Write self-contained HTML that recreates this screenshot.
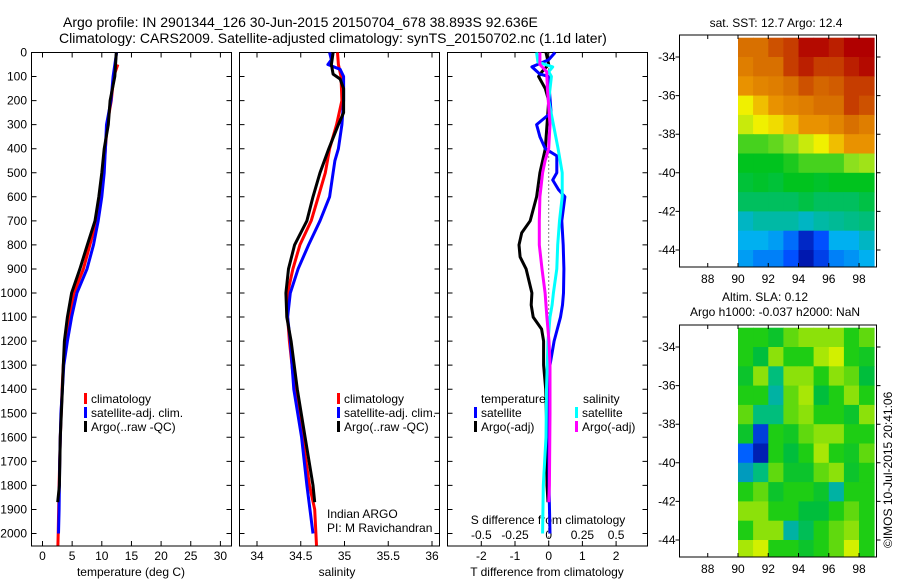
<!DOCTYPE html>
<html><head><meta charset="utf-8">
<style>
html,body{margin:0;padding:0;background:#fff;}
svg{display:block;font-family:"Liberation Sans",sans-serif;}
text{fill:#000;}
</style></head>
<body>
<svg id="fig" width="900" height="580" viewBox="0 0 900 580">
<rect width="900" height="580" fill="#fff"/>
<text x="63" y="27" font-size="14">Argo profile: IN 2901344_126 30-Jun-2015 20150704_678 38.893S 92.636E</text>
<text x="59" y="43" font-size="14">Climatology: CARS2009. Satellite-adjusted climatology: synTS_20150702.nc (1.1d later)</text>
<text x="776" y="27" font-size="12" text-anchor="middle">sat. SST: 12.7 Argo: 12.4</text>
<text x="765" y="301" font-size="12" text-anchor="middle">Altim. SLA: 0.12</text>
<text x="775" y="316" font-size="12" text-anchor="middle">Argo h1000: -0.037 h2000: NaN</text>
<text transform="translate(892,548) rotate(-90)" font-size="12">©IMOS 10-Jul-2015 20:41:06</text>
<g id="g"></g>
</svg>
<script>
// ---- data ----
const tDepth=[0,100,200,300,400,500,600,700,800,900,1000,1100,1200,1300,1400,1500,1700,1900,2000];
const tSat=[12.5,11.9,11.55,10.8,10.6,10.4,10.0,9.4,8.6,7.5,5.8,4.9,4.2,3.6,3.35,3.1,2.9,2.8,2.7];
const tClimDepth=[50,100,200,300,400,500,600,700,800,900,1000,1100,1200,1300,1400,1600,1800,2000,2050];
const tClim=[12.7,12.0,11.6,10.9,10.6,10.3,9.9,9.1,8.0,6.9,5.3,4.5,3.9,3.5,3.3,3.0,2.8,2.65,2.6];
const tArgoDepth=[0,100,200,300,400,500,600,700,800,900,1000,1100,1200,1300,1400,1600,1800,1870];
const tArgo=[12.45,12.2,11.4,11.1,10.4,10.0,9.5,8.85,7.55,6.3,4.9,4.2,3.7,3.5,3.35,3.0,2.85,2.56];

const sSatDepth=[0,30,50,70,100,200,300,400,450,500,600,700,800,900,1000,1100,1200,1400,1600,1800,2000];
const sSat=[34.83,34.85,34.81,34.95,34.99,34.99,34.97,34.93,34.89,34.87,34.83,34.72,34.59,34.47,34.38,34.35,34.38,34.42,34.51,34.57,34.64];
const sClimDepth=[0,50,100,200,300,400,500,600,700,800,900,1000,1100,1200,1400,1600,1800,1900,2050];
const sClim=[34.92,34.93,34.96,34.97,34.91,34.83,34.78,34.70,34.62,34.49,34.41,34.35,34.35,34.37,34.43,34.52,34.60,34.66,34.68];
const sArgoDepth=[0,50,90,110,150,250,300,400,500,600,700,800,900,1000,1100,1200,1400,1600,1800,1870];
const sArgo=[34.87,34.85,34.87,34.95,34.99,34.99,34.93,34.82,34.72,34.64,34.57,34.43,34.36,34.33,34.34,34.39,34.46,34.55,34.64,34.66];

const dtArgoDepth=[0,50,80,100,150,200,300,400,500,600,700,750,800,850,900,1000,1050,1100,1150,1200,1300,1400,1600,1800,1870];
const dtArgo=[-0.08,0,-0.2,-0.3,-0.1,0,-0.05,-0.1,-0.26,-0.36,-0.55,-0.8,-0.88,-0.85,-0.67,-0.5,-0.52,-0.46,-0.21,-0.15,-0.15,-0.09,-0.05,-0.05,-0.02];
const dtSatDepth=[0,30,60,90,100,120,250,300,350,400,430,500,530,570,600,700,800,900,1000,1050,1100,1200,1300,1400,1600,1800,2000];
const dtSat=[0.19,0,-0.5,-0.26,0,0,0.07,-0.36,-0.26,-0.1,0.24,0.24,0.12,0.29,0.48,0.39,0.43,0.45,0.44,0.41,0.35,0.16,0.04,-0.02,0.0,0.01,0.04];
const dsSatDepth=[0,40,60,80,100,200,300,400,500,600,700,800,900,1000,1050,1100,1200,1400,1600,1800,2000];
const dsSat=[-0.09,-0.08,0.03,0.0,0.02,0,0.035,0.07,0.1,0.1,0.08,0.067,0.06,0.035,0.025,0.01,-0.005,-0.016,-0.02,-0.04,-0.045];
const dsArgoDepth=[0,50,80,150,300,400,450,500,600,700,800,900,1000,1100,1200,1300,1500,1800,1870];
const dsArgo=[-0.065,-0.065,-0.015,-0.01,0.01,0,-0.027,-0.045,-0.065,-0.07,-0.07,-0.05,-0.027,-0.013,0.002,0.01,0.01,0.005,0.0];

const depthTicks=[0,100,200,300,400,500,600,700,800,900,1000,1100,1200,1300,1400,1500,1600,1700,1800,1900,2000];
const tTicks=[0,5,10,15,20,25,30];
const sTicks=[34,34.5,35,35.5,36];
const sTickLabels=["34","34.5","35","35.5","36"];
const dtTicks=[-2,-1,0,1,2];
const dsTicks=[-0.5,-0.25,0,0.25,0.5];
const dsTickLabels=["-0.5","-0.25","0","0.25","0.5"];

const mapLons=[90,91,92,93,94,95,96,97,98];
const mapLats=[-33,-34,-35,-36,-37,-38,-39,-40,-41,-42,-43,-44];
const lonTicks=[88,90,92,94,96,98];
const latTicks=[-34,-36,-38,-40,-42,-44];
const sstGrid=[
[14.5,14.5,14.8,15,15.5,15.5,15.3,15.6,15.8],
[14.3,14.5,14.5,15,15.3,15,15,15.3,15.5],
[14,14.2,14.3,14.5,14.8,14.6,14.7,15,15],
[13,13.5,14,14.2,14.3,14.5,14.5,15,14.8],
[12.8,13,13.2,13.5,14,14,14.2,14.5,14.3],
[12,12,12.2,12.5,12.8,13,13.5,14,14],
[11.5,11.5,11.5,11.7,12,12,12,12.5,12.6],
[11.3,11.4,11.3,11.5,11.5,11.4,11.5,11.5,11.5],
[11,11,11,11,11.2,11,11,11,11.2],
[10.3,10.5,10.5,10.5,10.3,10.5,10.6,10.7,10.8],
[10,10,9.8,9.3,8.5,9,10,10,10.3],
[9.8,9.5,9.5,9,8.3,8.8,9.5,9.7,10]];
const slaGrid=[
[0.05,0.05,0.02,0.08,0.1,0.1,0.1,0.05,0.08],
[0.05,0,0.1,0.05,0.05,0.12,0.15,0.05,0.03],
[0.02,0.1,-0.05,0.1,0.1,0.05,0.1,0.08,0],
[0.05,0.05,-0.08,0.08,0.12,0,0.05,0.1,0.05],
[0.08,-0.05,-0.05,0.08,0.1,0.05,0.05,0.02,0.1],
[0.02,-0.2,0.05,0.03,0.08,0.1,0.1,0.05,0.05],
[-0.15,-0.25,0.05,0.0,0.05,0.12,0.05,0.03,0.08],
[-0.1,-0.05,0.08,0.02,0.02,0.08,0.1,0.02,0.05],
[0.05,0.08,0.02,0.05,0.05,0.02,-0.08,0.05,0.05],
[0.1,0.1,0.05,0.05,0,0,0.05,0.08,0.05],
[0.05,0.1,0.1,-0.08,-0.02,0.05,0.08,0.1,0.05],
[0.12,0.15,0.05,0.05,0.02,0.05,0.08,0.15,0.05]];

// ---- helpers ----
const NS="http://www.w3.org/2000/svg";
const G=document.getElementById('g');
function mk(tag,attrs,parent){const e=document.createElementNS(NS,tag);for(const k in attrs)e.setAttribute(k,attrs[k]);(parent||G).appendChild(e);return e;}
const yD=d=>52.5+d*0.2405;
const xT=t=>42.5+t*5.93;
const xS=s=>257+(s-34)*87.5;
const xDT=t=>548.7+t*33.7;
const xDS=s=>548.7+s*134.8;

function panel(x0,x1,name){
  const r=mk('rect',{x:x0,y:52.5,width:x1-x0,height:546-52.5,fill:'none',stroke:'#000','stroke-width':1});
  
  
  depthTicks.forEach(d=>{
    const l=mk('path',{d:`M${x0},${yD(d)}h5M${x1},${yD(d)}h-5`,stroke:'#000'});
    
    
  });
}
function xticks(arr,fx,labels,name,y){
  arr.forEach((v,i)=>{
    const x=fx(v);
    const l=mk('path',{d:`M${x},546v-5M${x},52.5v5`,stroke:'#000'});
    
    
    const t=mk('text',{x:x,y:y,'font-size':12,'text-anchor':'middle'});
    t.textContent=labels?labels[i]:String(v);
    
    
  });
}
function line(depths,vals,fx,color,name){
  const pts=depths.map((d,i)=>fx(vals[i]).toFixed(1)+','+yD(d).toFixed(1)).join(' ');
  const p=mk('polyline',{points:pts,fill:'none',stroke:color,'stroke-width':3,'stroke-linejoin':'round'});
  
  
}
function txt(x,y,s,name,size,anchor){
  const t=mk('text',{x:x,y:y,'font-size':size||12,'text-anchor':anchor||'start'});
  t.textContent=s;
  
  
}
function legendEntry(x,y,color,s,name){
  const r=mk('rect',{x:x,y:y-10,width:3,height:11,fill:color});
  
  
  txt(x+7,y,s,name);
}

// panel 1: temperature
panel(31.5,231.5,'temperature-panel');
depthTicks.forEach(d=>txt(27,yD(d)+4,String(d),'depth-tick-label',12,'end'));
xticks(tTicks,xT,null,'temperature-axis',560);
txt(131,576,'temperature (deg C)','temperature-axis-title',12,'middle');
line(tClimDepth,tClim,xT,'#f00','temperature-climatology-line');
line(tDepth,tSat,xT,'#00f','temperature-satellite-line');
line(tArgoDepth,tArgo,xT,'#000','temperature-argo-line');
legendEntry(84,403,'#f00','climatology','legend-climatology');
legendEntry(84,417,'#00f','satellite-adj. clim.','legend-satellite');
legendEntry(84,431,'#000','Argo(..raw -QC)','legend-argo');

// panel 2: salinity
panel(239.5,439.5,'salinity-panel');
xticks(sTicks,xS,sTickLabels,'salinity-axis',560);
txt(337,576,'salinity','salinity-axis-title',12,'middle');
line(sClimDepth,sClim,xS,'#f00','salinity-climatology-line');
line(sSatDepth,sSat,xS,'#00f','salinity-satellite-line');
line(sArgoDepth,sArgo,xS,'#000','salinity-argo-line');
legendEntry(337,403,'#f00','climatology','legend2-climatology');
legendEntry(337,417,'#00f','satellite-adj. clim.','legend2-satellite');
legendEntry(337,431,'#000','Argo(..raw -QC)','legend2-argo');
txt(327,518,'Indian ARGO','float-owner-label');
txt(327,532,'PI: M Ravichandran','float-pi-label');

// panel 3: differences
panel(447.5,647.5,'difference-panel');
const zl=mk('line',{x1:xDT(0),y1:yD(0),x2:xDT(0),y2:546,stroke:'#000','stroke-dasharray':'1,3'});


xticks(dtTicks,xDT,null,'t-difference-axis',560);
txt(547,576,'T difference from climatology','t-difference-axis-title',12,'middle');
txt(548,524,'S difference from climatology','s-difference-axis-title',12,'middle');
dsTicks.forEach((v,i)=>txt(xDS(v),539,dsTickLabels[i],'s-difference-tick-label',12,'middle'));
line(dtArgoDepth,dtArgo,xDT,'#000','t-diff-argo-line');
line(dtSatDepth,dtSat,xDT,'#00f','t-diff-satellite-line');
line(dsSatDepth,dsSat,xDS,'#0ff','s-diff-satellite-line');
line(dsArgoDepth,dsArgo,xDS,'#f0f','s-diff-argo-line');
txt(481,403,'temperature','legend3-temperature-heading');
txt(583,403,'salinity','legend3-salinity-heading');
legendEntry(474,417,'#00f','satellite','legend3-t-satellite');
legendEntry(474,431,'#000','Argo(-adj)','legend3-t-argo');
legendEntry(575,417,'#0ff','satellite','legend3-s-satellite');
legendEntry(575,431,'#f0f','Argo(-adj)','legend3-s-argo');

// maps
function col(stops,v){
  let c;
  if(v<=stops[0][0])c=stops[0][1];
  else{
    c=stops[stops.length-1][1];
    for(let i=1;i<stops.length;i++){
      if(v<=stops[i][0]){
        const a=stops[i-1],b=stops[i],f=(v-a[0])/(b[0]-a[0]);
        c=a[1].map((x,j)=>Math.round(x+(b[1][j]-x)*f));
        break;
      }
    }
  }
  return `rgb(${c[0]},${c[1]},${c[2]})`;
}
const sstStops=[[8,[0,0,140]],[9,[0,80,255]],[10,[0,176,240]],[10.8,[0,190,120]],[11.5,[0,195,30]],[12.5,[140,224,30]],[13,[240,240,0]],[13.8,[240,160,0]],[14.5,[216,112,0]],[15.6,[176,0,0]]];
const slaStops=[[-0.3,[0,0,140]],[-0.15,[0,96,255]],[-0.07,[0,190,150]],[0,[0,190,60]],[0.05,[30,205,20]],[0.1,[140,225,10]],[0.15,[210,240,0]],[0.2,[240,160,0]]];

function map(top,grid,stops,name){
  const X0=679.5,X1=876.5,bottom=top+232;
  const xL=lon=>738+(lon-90)*15.13;
  const yL=lat=>top+22+(-34-lat)*19.3;
  grid.forEach((row,i)=>row.forEach((v,j)=>{
    const x=xL(mapLons[j]),y=Math.max(top,yL(mapLats[i]));
    const w=Math.min(xL(mapLons[j]+1),X1)-x;
    const h=Math.min(yL(mapLats[i]-1),bottom)-y;
    const c=mk('rect',{x:x.toFixed(1),y:y.toFixed(1),width:(w+0.5).toFixed(1),height:(h+0.5).toFixed(1),fill:col(stops,v)});
    
    
  }));
  const f=mk('rect',{x:X0,y:top,width:X1-X0,height:bottom-top,fill:'none',stroke:'#000'});
  
  
  lonTicks.forEach(l=>{
    const t=mk('path',{d:`M${xL(l)},${bottom}v-4M${xL(l)},${top}v4`,stroke:'#000'});
    
    
    txt(xL(l),bottom+16,String(l),name+'-lon-label',12,'middle');
  });
  latTicks.forEach(l=>{
    const t=mk('path',{d:`M${X0},${yL(l)}h-4M${X1},${yL(l)}h4`,stroke:'#000'});
    
    
    txt(X0-4,yL(l)+4,String(l),name+'-lat-label',12,'end');
  });
}
map(35,sstGrid,sstStops,'sst-map');
map(325,slaGrid,slaStops,'sla-map');
</script>
</body></html>
